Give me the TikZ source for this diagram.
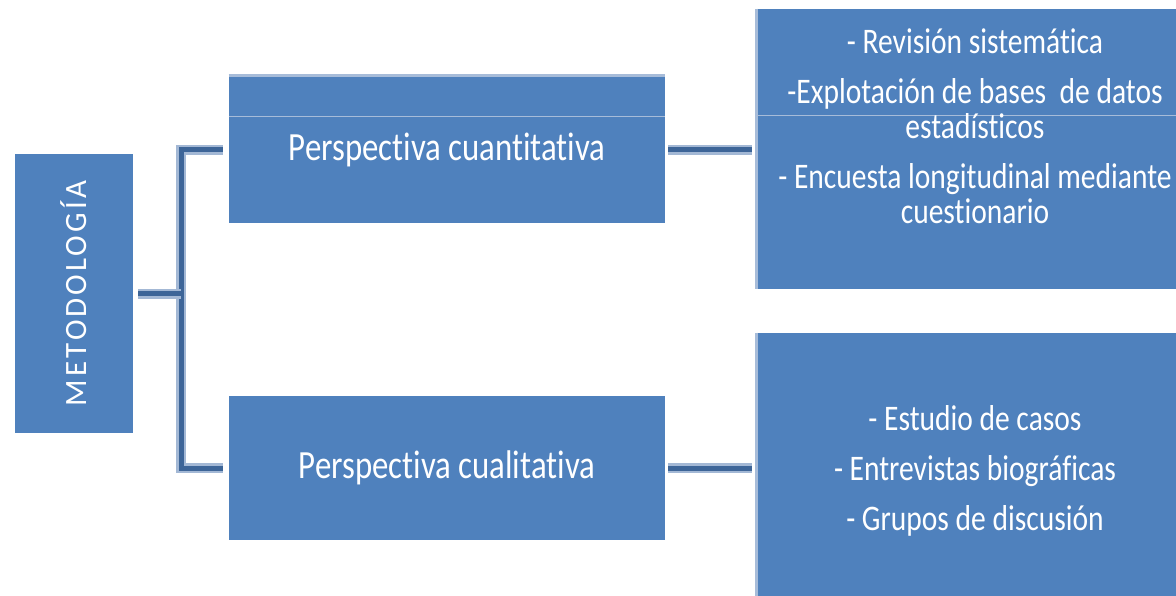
\documentclass[tikz,border=0pt]{standalone}
\usepackage{fontspec}
\setmainfont[Ligatures=NoCommon]{Carlito}
\newfontfamily\narrowfont[FakeStretch=0.82,Ligatures=NoCommon]{Carlito}
\usetikzlibrary{positioning}
\definecolor{caja}{HTML}{4F81BD}
\definecolor{borde}{HTML}{A7BCD9}
\definecolor{linea}{HTML}{3D6598}
\definecolor{lineaclara}{HTML}{A3B8D5}

\begin{document}
\begin{tikzpicture}
  [x=0.5pt,y=-0.5pt,
   caja/.style={fill=caja,draw=none,inner sep=0pt,text=white},
   texto/.style={inner sep=0pt,align=center,text=white},
   conn/.style={draw=linea,line width=2.5pt,line join=miter,
                preaction={draw=lineaclara,line width=5pt}}]
  \useasboundingbox[fill=white] (0,0) rectangle (1176,595);
  \node[caja,rotate=90,minimum width=139.5pt,minimum height=59pt,
        font=\fontsize{15.5}{18}\selectfont\addfontfeature{LetterSpace=10}] (meto) at (74,293.5) {METODOLOGÍA};
  \node[caja,minimum width=218pt,minimum height=73.5pt,
        font=\narrowfont\fontsize{20}{23}\selectfont] (cuanti) at (447,149.5) {Perspectiva cuantitativa};
  \node[caja,minimum width=218pt,minimum height=72pt,
        font=\narrowfont\fontsize{20}{23}\selectfont] (cuali) at (447,468) {Perspectiva cualitativa};
  \node[caja,minimum width=218pt,minimum height=140pt] (lista1) at (975,149) {};
  \node[caja,minimum width=218pt,minimum height=140pt] (lista2) at (975,473) {};
  \draw[borde,line width=1.5pt] (cuanti.north west) -- (cuanti.north east);
  \draw[borde,line width=0.6pt] ([yshift=-20.5pt]cuanti.north west) -- ([yshift=-20.5pt]cuanti.north east);
  \draw[borde,line width=0.6pt] ([yshift=-53.5pt]lista1.north west) -- ([yshift=-53.5pt]lista1.north east);
  \foreach \caj in {lista1,lista2}
    \draw[borde,line width=1.5pt] (\caj.north west) -- (\caj.south west);
  \node[texto,below=10pt of lista1.north,font=\narrowfont\fontsize{18}{17.5}\selectfont] (t1)
    {- Revisión sistemática\\[7.5pt]-Explotación de bases~ de datos\\estadísticos\\[7.5pt]- Encuesta longitudinal mediante\\cuestionario};
  \node[texto,below=36pt of lista2.north,font=\narrowfont\fontsize{18}{25}\selectfont] (t2)
    {- Estudio de casos\\- Entrevistas biográficas\\- Grupos de discusión};
  \coordinate (bk) at (181,293.5);
  \draw[conn] ([xshift=-3pt]cuanti.west) -| (bk) |- ([xshift=-3pt]cuali.west);
  \draw[conn] ([xshift=2.5pt]meto.south) -- (bk);
  \foreach \from/\to in {cuanti/lista1,cuali/lista2}
    \draw[conn,shorten <=1.5pt,shorten >=2.5pt] (\from.east) -- (\from.east -| \to.west);
\end{tikzpicture}
\end{document}
